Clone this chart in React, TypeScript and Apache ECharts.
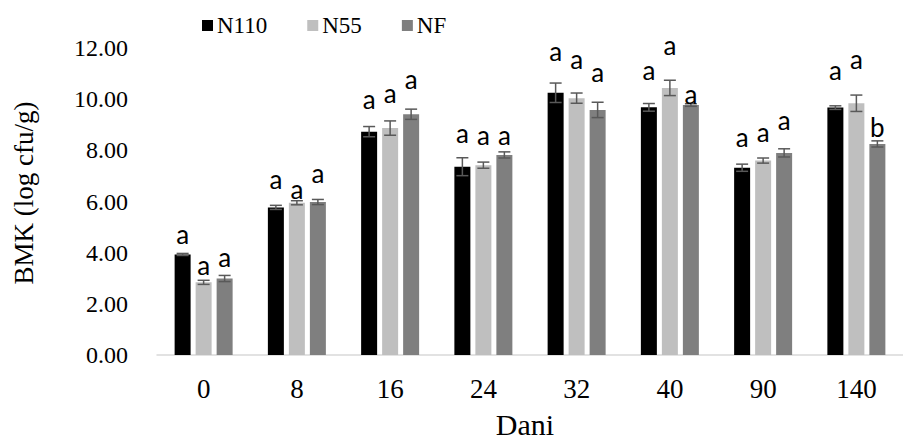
import React, { useEffect, useRef } from "react";
import * as echarts from "echarts";

const categories = ["0", "8", "16", "24", "32", "40", "90", "140"];
const seriesNames = ["N110", "N55", "NF"];

const n110 = [3.93, 5.77, 8.73, 7.36, 10.25, 9.68, 7.32, 9.67];
const n55 = [2.84, 5.95, 8.87, 7.42, 10.04, 10.44, 7.6, 9.84];
const nf = [2.99, 5.98, 9.41, 7.82, 9.58, 9.77, 7.9, 8.25];

const errN110 = [0.04, 0.08, 0.2, 0.35, 0.38, 0.15, 0.14, 0.07];
const errN55 = [0.08, 0.08, 0.28, 0.12, 0.2, 0.3, 0.1, 0.32];
const errNF = [0.12, 0.1, 0.2, 0.12, 0.3, 0.05, 0.16, 0.12];

const lettersN110 = ["a", "a", "a", "a", "a", "a", "a", "a"];
const lettersN55 = ["a", "a", "a", "a", "a", "a", "a", "a"];
const lettersNF = ["a", "a", "a", "a", "a", "a", "a", "b"];

// height (log cfu/g) at which each significance letter sits
const letterLevelN110 = [4.74, 6.87, 10.0, 8.68, 11.87, 11.13, 8.52, 11.13];
const letterLevelN55 = [3.51, 6.5, 10.25, 8.59, 11.58, 12.11, 8.72, 11.58];
const letterLevelNF = [3.83, 7.13, 10.78, 8.59, 11.06, 10.21, 9.18, 8.91];

const yTicks = { min: 0, max: 12, interval: 2 };

const colors = ["#000000", "#bfbfbf", "#7f7f7f"];
const SERIF = "'Liberation Serif', 'Times New Roman', serif";
const SANS = "Lato, 'Open Sans', sans-serif";

export default function App() {
  const ref = useRef<HTMLDivElement>(null);
  useEffect(() => {
    if (!ref.current) return;
    const chart = echarts.init(ref.current, null, { renderer: "svg" });
    const values = [n110, n55, nf];
    const errs = [errN110, errN55, errNF];
    const letters = [lettersN110, lettersN55, lettersNF];
    const levels = [letterLevelN110, letterLevelN55, letterLevelNF];
    const barWidth = 16;
    const barGapPx = 5;

    const barSeries = seriesNames.map((name, s) => ({
      name,
      type: "bar",
      data: values[s],
      barWidth,
      barGap: (barGapPx / barWidth) * 100 + "%",
      itemStyle: { color: colors[s] },
      z: 2,
    }));

    const errSeries = seriesNames.map((name, s) => ({
      name: "err-" + name,
      type: "custom",
      z: 5,
      clip: false,
      data: values[s].map((v, i) => [i, v, errs[s][i]]),
      renderItem: (params: any, api: any) => {
        const i = api.value(0);
        const v = api.value(1);
        const e = api.value(2);
        const offset = (s - 1) * (barWidth + barGapPx);
        const top = api.coord([i, v + e]);
        const bot = api.coord([i, v - e]);
        const lab = api.coord([i, levels[s][params.dataIndex]]);
        const x = top[0] + offset;
        const cw = 6;
        const st = { stroke: "#595959", lineWidth: 1.5 };
        return {
          type: "group",
          children: [
            { type: "line", shape: { x1: x, y1: top[1], x2: x, y2: bot[1] }, style: st },
            { type: "line", shape: { x1: x - cw, y1: top[1], x2: x + cw, y2: top[1] }, style: st },
            { type: "line", shape: { x1: x - cw, y1: bot[1], x2: x + cw, y2: bot[1] }, style: st },
            {
              type: "text",
              x,
              y: lab[1],
              style: {
                text: letters[s][params.dataIndex],
                fontFamily: SANS,
                fontSize: 26,
                fill: "#000",
                align: "center",
                verticalAlign: "middle",
              },
            },
          ],
        };
      },
    }));

    chart.setOption({
      animation: false,
      grid: { left: 157, right: -13, top: 48, bottom: 85, containLabel: false },
      legend: {
        data: seriesNames,
        left: 202,
        top: 14,
        padding: 0,
        itemWidth: 11,
        itemHeight: 11,
        itemGap: 40,
        icon: "rect",
        textStyle: { fontFamily: SERIF, fontSize: 23, color: "#000", padding: [0, 0, 0, -1] },
      },
      xAxis: {
        type: "category",
        data: categories,
        axisLine: { show: true, lineStyle: { color: "#d9d9d9", width: 1.5 } },
        axisTick: { show: false },
        axisLabel: { fontFamily: SERIF, fontSize: 27, color: "#000", margin: 20 },
      },
      yAxis: {
        type: "value",
        min: yTicks.min,
        max: yTicks.max,
        interval: yTicks.interval,
        axisLine: { show: false },
        axisTick: { show: false },
        splitLine: { show: false },
        axisLabel: {
          fontFamily: SERIF,
          fontSize: 24,
          color: "#000",
          margin: 29,
          formatter: (v: number) => v.toFixed(2),
        },
      },
      graphic: [
        {
          type: "text",
          x: 525,
          y: 424,
          style: {
            text: "Dani",
            fontFamily: SERIF,
            fontSize: 30,
            fill: "#000",
            align: "center",
            verticalAlign: "middle",
          },
        },
        {
          type: "text",
          x: 24,
          y: 193,
          rotation: Math.PI / 2,
          style: {
            text: "BMK (log cfu/g)",
            fontFamily: SERIF,
            fontSize: 27,
            fill: "#000",
            align: "center",
            verticalAlign: "middle",
          },
        },
      ],
      series: [...barSeries, ...errSeries],
    });
    return () => chart.dispose();
  }, []);
  return (
    <div
      ref={ref}
      style={{ position: "absolute", left: 0, top: 0, width: 903, height: 440 }}
    />
  );
}
